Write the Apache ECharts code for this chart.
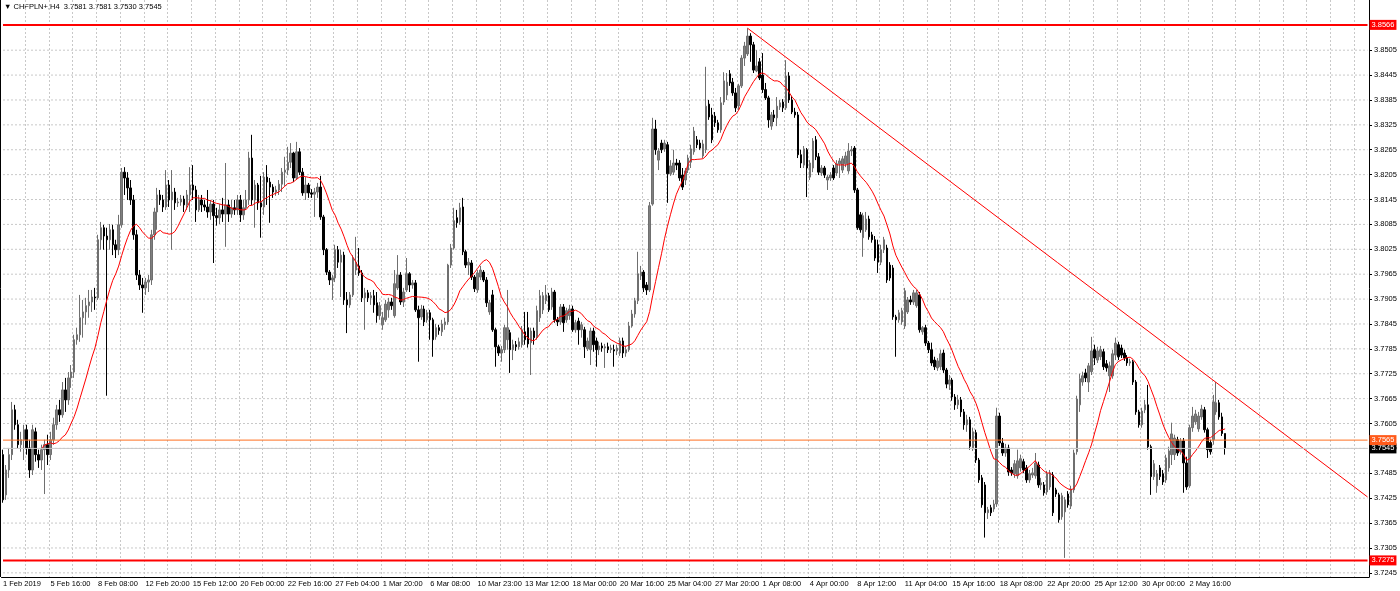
<!DOCTYPE html>
<html><head><meta charset="utf-8">
<script src="https://cdn.jsdelivr.net/npm/echarts@6/dist/echarts.min.js"></script>
<style>html,body{margin:0;padding:0;background:#fff}#c{width:1400px;height:591px}</style>
</head><body><div id="c"></div>
<script>
const headerText = '\u25BC CHFPLN+,H4  3.7581 3.7581 3.7530 3.7545';
// [open, close, low, high] per H4 bar
const candles = [
[3.7530,3.7421,3.7414,3.7542],[3.7433,3.7493,3.7421,3.7505],[3.7493,3.7530,3.7474,3.7546],[3.7530,3.7638,3.7517,3.7657],
[3.7638,3.7602,3.7590,3.7650],[3.7602,3.7554,3.7546,3.7614],[3.7554,3.7566,3.7537,3.7585],[3.7566,3.7590,3.7517,3.7602],
[3.7590,3.7546,3.7530,3.7602],[3.7546,3.7493,3.7474,3.7566],[3.7493,3.7590,3.7481,3.7602],[3.7585,3.7530,3.7513,3.7595],
[3.7530,3.7517,3.7498,3.7542],[3.7517,3.7542,3.7493,3.7554],[3.7542,3.7554,3.7435,3.7566],[3.7554,3.7530,3.7505,3.7578],
[3.7530,3.7566,3.7517,3.7585],[3.7566,3.7602,3.7554,3.7619],[3.7602,3.7638,3.7590,3.7650],[3.7638,3.7626,3.7609,3.7662],
[3.7626,3.7686,3.7619,3.7705],[3.7686,3.7662,3.7633,3.7715],[3.7662,3.7715,3.7650,3.7729],[3.7715,3.7729,3.7691,3.7746],
[3.7729,3.7807,3.7715,3.7819],[3.7807,3.7819,3.7795,3.7836],[3.7819,3.7860,3.7802,3.7915],[3.7860,3.7874,3.7812,3.7903],
[3.7874,3.7889,3.7843,3.7908],[3.7889,3.7898,3.7860,3.7927],[3.7898,3.7910,3.7874,3.7927],[3.7910,3.7908,3.7879,3.7932],
[3.7908,3.8048,3.7903,3.8060],[3.8048,3.8077,3.8024,3.8091],[3.8077,3.8057,3.8024,3.8084],[3.8057,3.8048,3.7672,3.8077],
[3.8048,3.8072,3.8024,3.8086],[3.8072,3.8036,3.8011,3.8084],[3.8036,3.8024,3.8004,3.8048],[3.8024,3.8084,3.8011,3.8108],
[3.8084,3.8211,3.8077,3.8221],[3.8211,3.8197,3.8156,3.8223],[3.8197,3.8173,3.8144,3.8211],[3.8173,3.8144,3.8132,3.8192],
[3.8144,3.8060,3.8048,3.8156],[3.8060,3.7963,3.7951,3.8072],[3.7963,3.7939,3.7927,3.7975],[3.7939,3.7932,3.7872,3.7956],
[3.7932,3.7946,3.7915,3.7956],[3.7946,3.7951,3.7922,3.7963],[3.7951,3.8060,3.7939,3.8072],[3.8060,3.8115,3.8048,3.8125],
[3.8115,3.8156,3.8072,3.8173],[3.8156,3.8144,3.8132,3.8168],[3.8144,3.8127,3.8115,3.8156],[3.8127,3.8180,3.8120,3.8216],
[3.8180,3.8144,3.8127,3.8192],[3.8144,3.8163,3.8024,3.8216],[3.8163,3.8137,3.8120,3.8173],[3.8137,3.8139,3.8127,3.8149],
[3.8139,3.8146,3.8130,3.8156],[3.8146,3.8132,3.8115,3.8154],[3.8132,3.8156,3.8120,3.8168],[3.8156,3.8180,3.8115,3.8223],
[3.8180,3.8168,3.8144,3.8228],[3.8168,3.8120,3.8091,3.8178],[3.8120,3.8144,3.8115,3.8156],[3.8144,3.8132,3.8115,3.8156],
[3.8132,3.8127,3.8118,3.8144],[3.8127,3.8115,3.8101,3.8168],[3.8115,3.8134,3.8096,3.8144],[3.8134,3.8106,3.7992,3.8144],
[3.8106,3.8101,3.8082,3.8125],[3.8101,3.8120,3.8086,3.8134],[3.8120,3.8110,3.8091,3.8149],[3.8110,3.8132,3.8031,3.8233],
[3.8132,3.8110,3.8091,3.8144],[3.8110,3.8125,3.8101,3.8144],[3.8125,3.8120,3.8108,3.8144],[3.8120,3.8144,3.8108,3.8156],
[3.8144,3.8108,3.8091,3.8156],[3.8108,3.8125,3.8096,3.8144],[3.8125,3.8144,3.8120,3.8168],[3.8144,3.8245,3.8132,3.8260],
[3.8245,3.8144,3.8132,3.8301],[3.8144,3.8180,3.8077,3.8192],[3.8180,3.8137,3.8120,3.8185],[3.8137,3.8127,3.8053,3.8202],
[3.8127,3.8199,3.8108,3.8211],[3.8199,3.8187,3.8132,3.8228],[3.8187,3.8175,3.8089,3.8197],[3.8175,3.8163,3.8149,3.8182],
[3.8163,3.8168,3.8154,3.8178],[3.8168,3.8182,3.8156,3.8192],[3.8182,3.8211,3.8163,3.8221],[3.8211,3.8216,3.8178,3.8248],
[3.8216,3.8235,3.8204,3.8272],[3.8235,3.8257,3.8221,3.8281],[3.8257,3.8197,3.8187,3.8260],[3.8197,3.8260,3.8192,3.8284],
[3.8260,3.8211,3.8204,3.8269],[3.8211,3.8161,3.8154,3.8221],[3.8161,3.8180,3.8144,3.8199],[3.8180,3.8161,3.8149,3.8185],
[3.8161,3.8158,3.8149,3.8170],[3.8158,3.8163,3.8103,3.8173],[3.8163,3.8175,3.8149,3.8185],[3.8175,3.8103,3.8096,3.8202],
[3.8103,3.8024,3.8011,3.8108],[3.8024,3.7970,3.7963,3.8028],[3.7970,3.7951,3.7939,3.7975],[3.7951,3.7956,3.7903,3.7963],
[3.7956,3.8024,3.7946,3.8036],[3.8024,3.7994,3.7980,3.8033],[3.7994,3.8011,3.7910,3.8024],[3.8011,3.7903,3.7891,3.8019],
[3.7903,3.7891,3.7823,3.7922],[3.7891,3.7915,3.7884,3.7922],[3.7915,3.8004,3.7910,3.8011],[3.7975,3.7994,3.7963,3.8055],
[3.7985,3.7968,3.7961,3.8028],[3.7968,3.7908,3.7898,3.7975],[3.7908,3.7920,3.7831,3.7932],[3.7920,3.7908,3.7898,3.7927],
[3.7908,3.7913,3.7891,3.7922],[3.7913,3.7891,3.7872,3.7927],[3.7896,3.7865,3.7848,3.7922],[3.7865,3.7889,3.7855,3.7898],
[3.7843,3.7860,3.7831,3.7874],[3.7855,3.7893,3.7850,3.7903],[3.7879,3.7898,3.7860,3.7908],[3.7898,3.7889,3.7879,3.7908],
[3.7865,3.7942,3.7860,3.7975],[3.7932,3.7963,3.7927,3.8011],[3.7963,3.7898,3.7891,3.7970],[3.7898,3.7922,3.7886,3.7932],
[3.7927,3.7966,3.7922,3.8004],[3.7966,3.7939,3.7922,3.7970],[3.7939,3.7944,3.7930,3.7951],[3.7944,3.7879,3.7874,3.7951],
[3.7879,3.7860,3.7754,3.7889],[3.7862,3.7881,3.7855,3.7891],[3.7881,3.7850,3.7840,3.7889],[3.7855,3.7872,3.7848,3.7879],
[3.7872,3.7855,3.7807,3.7879],[3.7855,3.7807,3.7766,3.7860],[3.7814,3.7836,3.7807,3.7845],[3.7836,3.7829,3.7819,3.7843],
[3.7826,3.7845,3.7816,3.7855],[3.7843,3.7850,3.7831,3.7860],[3.7850,3.7987,3.7843,3.7990],[3.7987,3.8028,3.7980,3.8038],
[3.8028,3.8094,3.8024,3.8125],[3.8101,3.8089,3.8077,3.8120],[3.8091,3.8125,3.8084,3.8137],[3.8127,3.8019,3.8011,3.8149],
[3.8019,3.7987,3.7980,3.8024],[3.7987,3.7994,3.7963,3.8004],[3.7992,3.7958,3.7951,3.7999],[3.7958,3.7930,3.7922,3.7963],
[3.7927,3.7968,3.7920,3.7975],[3.7958,3.7975,3.7951,3.7985],[3.7970,3.7951,3.7946,3.7975],[3.7951,3.7896,3.7886,3.7958],
[3.7874,3.7896,3.7867,3.7903],[3.7915,3.7831,3.7826,3.7927],[3.7831,3.7790,3.7742,3.7836],[3.7790,3.7775,3.7768,3.7795],
[3.7775,3.7783,3.7754,3.7792],[3.7783,3.7836,3.7775,3.7843],[3.7807,3.7836,3.7783,3.7927],[3.7824,3.7783,3.7727,3.7831],
[3.7783,3.7795,3.7758,3.7807],[3.7795,3.7790,3.7780,3.7804],[3.7790,3.7802,3.7783,3.7812],[3.7795,3.7831,3.7788,3.7840],
[3.7826,3.7807,3.7795,3.7874],[3.7836,3.7797,3.7788,3.7874],[3.7800,3.7828,3.7722,3.7836],[3.7828,3.7812,3.7795,3.7836],
[3.7814,3.7877,3.7807,3.7889],[3.7860,3.7913,3.7850,3.7927],[3.7879,3.7913,3.7869,3.7922],[3.7901,3.7915,3.7893,3.7939],
[3.7913,3.7879,3.7874,3.7920],[3.7886,3.7922,3.7879,3.7932],[3.7922,3.7855,3.7848,3.7927],[3.7855,3.7850,3.7840,3.7862],
[3.7850,3.7886,3.7843,3.7893],[3.7886,3.7848,3.7826,3.7893],[3.7855,3.7877,3.7848,3.7884],[3.7865,3.7881,3.7855,3.7891],
[3.7881,3.7831,3.7826,3.7889],[3.7831,3.7848,3.7824,3.7855],[3.7852,3.7831,3.7795,3.7860],[3.7831,3.7843,3.7812,3.7850],
[3.7831,3.7790,3.7763,3.7838],[3.7785,3.7804,3.7780,3.7812],[3.7783,3.7828,3.7746,3.7836],[3.7828,3.7795,3.7778,3.7836],
[3.7804,3.7783,3.7742,3.7812],[3.7783,3.7792,3.7770,3.7802],[3.7792,3.7787,3.7778,3.7800],[3.7787,3.7790,3.7739,3.7797],
[3.7790,3.7783,3.7775,3.7800],[3.7783,3.7787,3.7775,3.7795],[3.7783,3.7780,3.7742,3.7795],[3.7780,3.7787,3.7770,3.7795],
[3.7775,3.7804,3.7768,3.7812],[3.7804,3.7775,3.7763,3.7812],[3.7775,3.7783,3.7766,3.7792],[3.7783,3.7840,3.7778,3.7850],
[3.7840,3.7869,3.7836,3.7879],[3.7869,3.7901,3.7860,3.7908],[3.7901,3.7966,3.7893,3.8019],[3.7961,3.7970,3.7951,3.7985],
[3.7970,3.7932,3.7922,3.7975],[3.7939,3.7927,3.7915,3.7946],[3.7927,3.8130,3.7922,3.8139],[3.8134,3.8315,3.8130,3.8342],
[3.8315,3.8265,3.8253,3.8337],[3.8240,3.8262,3.8216,3.8269],[3.8281,3.8265,3.8257,3.8289],[3.8267,3.8281,3.8260,3.8289],
[3.8277,3.8207,3.8137,3.8284],[3.8207,3.8226,3.8202,3.8240],[3.8211,3.8233,3.8204,3.8265],[3.8233,3.8228,3.8216,3.8243],
[3.8233,3.8197,3.8190,3.8240],[3.8204,3.8175,3.8168,3.8221],[3.8192,3.8214,3.8180,3.8221],[3.8216,3.8245,3.8209,3.8253],
[3.8235,3.8267,3.8221,3.8277],[3.8260,3.8310,3.8253,3.8320],[3.8289,3.8277,3.8269,3.8298],[3.8281,3.8269,3.8265,3.8289],
[3.8250,3.8279,3.8245,3.8289],[3.8265,3.8370,3.8257,3.8465],[3.8375,3.8344,3.8337,3.8385],[3.8349,3.8289,3.8281,3.8366],
[3.8346,3.8330,3.8320,3.8356],[3.8330,3.8313,3.8306,3.8337],[3.8313,3.8378,3.8306,3.8392],[3.8380,3.8431,3.8373,3.8452],
[3.8397,3.8428,3.8385,3.8450],[3.8448,3.8426,3.8419,3.8457],[3.8428,3.8402,3.8395,3.8438],[3.8402,3.8366,3.8356,3.8414],
[3.8371,3.8419,3.8361,3.8424],[3.8419,3.8486,3.8414,3.8493],[3.8486,3.8515,3.8467,3.8525],[3.8496,3.8539,3.8491,3.8558],
[3.8539,3.8518,3.8477,3.8546],[3.8518,3.8457,3.8450,3.8525],[3.8455,3.8467,3.8452,3.8505],[3.8477,3.8438,3.8433,3.8486],
[3.8445,3.8410,3.8402,3.8498],[3.8410,3.8390,3.8385,3.8426],[3.8390,3.8337,3.8318,3.8395],[3.8322,3.8349,3.8313,3.8356],
[3.8349,3.8342,3.8332,3.8361],[3.8342,3.8370,3.8322,3.8392],[3.8368,3.8378,3.8361,3.8385],[3.8380,3.8366,3.8356,3.8387],
[3.8366,3.8443,3.8361,3.8481],[3.8443,3.8385,3.8378,3.8452],[3.8385,3.8356,3.8351,3.8395],[3.8356,3.8349,3.8342,3.8366],
[3.8349,3.8253,3.8245,3.8356],[3.8253,3.8233,3.8221,3.8265],[3.8228,3.8267,3.8221,3.8274],[3.8265,3.8221,3.8151,3.8269],
[3.8199,3.8233,3.8192,3.8240],[3.8221,3.8286,3.8211,3.8293],[3.8289,3.8248,3.8240,3.8298],[3.8248,3.8211,3.8204,3.8257],
[3.8209,3.8221,3.8202,3.8228],[3.8221,3.8204,3.8197,3.8226],[3.8192,3.8199,3.8168,3.8204],[3.8197,3.8204,3.8190,3.8211],
[3.8221,3.8197,3.8192,3.8228],[3.8209,3.8231,3.8202,3.8240],[3.8231,3.8238,3.8197,3.8245],[3.8216,3.8243,3.8209,3.8250],
[3.8231,3.8250,3.8223,3.8260],[3.8214,3.8262,3.8207,3.8281],[3.8262,3.8265,3.8250,3.8274],[3.8269,3.8168,3.8161,3.8274],
[3.8168,3.8077,3.8072,3.8173],[3.8108,3.8072,3.8065,3.8115],[3.8053,3.8106,3.8007,3.8113],[3.8072,3.8098,3.8067,3.8115],
[3.8098,3.8055,3.8048,3.8106],[3.8060,3.8048,3.8041,3.8067],[3.8048,3.8004,3.7997,3.8057],[3.8036,3.7994,3.7968,3.8048],
[3.7994,3.8024,3.7987,3.8036],[3.8024,3.8048,3.8016,3.8055],[3.8028,3.7951,3.7944,3.8036],[3.7987,3.7956,3.7949,3.7994],
[3.7980,3.7862,3.7855,3.7987],[3.7862,3.7855,3.7766,3.7867],[3.7855,3.7872,3.7848,3.7879],[3.7850,3.7877,3.7843,3.7884],
[3.7840,3.7925,3.7833,3.7932],[3.7874,3.7903,3.7869,3.7910],[3.7903,3.7898,3.7891,3.7913],[3.7898,3.7920,3.7891,3.7927],
[3.7889,3.7920,3.7884,3.7927],[3.7915,3.7831,3.7824,3.7922],[3.7826,3.7836,3.7819,3.7840],[3.7836,3.7799,3.7792,3.7843],
[3.7799,3.7783,3.7775,3.7804],[3.7783,3.7751,3.7744,3.7800],[3.7758,3.7742,3.7734,3.7766],[3.7739,3.7756,3.7732,3.7763],
[3.7742,3.7773,3.7734,3.7783],[3.7775,3.7734,3.7727,3.7783],[3.7734,3.7700,3.7690,3.7739],[3.7700,3.7710,3.7686,3.7722],
[3.7710,3.7669,3.7660,3.7715],[3.7669,3.7650,3.7638,3.7676],[3.7650,3.7662,3.7640,3.7674],[3.7662,3.7633,3.7621,3.7669],
[3.7633,3.7602,3.7590,3.7640],[3.7602,3.7614,3.7585,3.7626],[3.7614,3.7550,3.7542,3.7621],[3.7544,3.7585,3.7539,3.7595],
[3.7583,3.7517,3.7510,3.7590],[3.7517,3.7469,3.7462,3.7522],[3.7474,3.7409,3.7402,3.7481],[3.7457,3.7390,3.7330,3.7464],
[3.7390,3.7397,3.7375,3.7404],[3.7402,3.7390,3.7382,3.7409],[3.7399,3.7411,3.7392,3.7421],[3.7411,3.7623,3.7404,3.7643],
[3.7623,3.7558,3.7551,3.7631],[3.7558,3.7534,3.7527,3.7570],[3.7534,3.7546,3.7525,3.7556],[3.7546,3.7488,3.7479,3.7554],
[3.7493,3.7486,3.7479,3.7500],[3.7484,3.7508,3.7474,3.7517],[3.7479,3.7515,3.7472,3.7542],[3.7498,3.7520,3.7489,3.7530],
[3.7513,3.7493,3.7486,3.7520],[3.7498,3.7469,3.7462,3.7505],[3.7469,3.7484,3.7462,3.7493],[3.7481,3.7486,3.7474,3.7498],
[3.7479,3.7510,3.7472,3.7534],[3.7505,3.7457,3.7450,3.7513],[3.7457,3.7462,3.7445,3.7474],[3.7457,3.7438,3.7431,3.7464],
[3.7440,3.7484,3.7433,3.7491],[3.7452,3.7486,3.7445,3.7493],[3.7481,3.7390,3.7382,3.7488],[3.7445,3.7435,3.7428,3.7450],
[3.7433,3.7373,3.7366,3.7438],[3.7380,3.7431,3.7373,3.7438],[3.7392,3.7421,3.7281,3.7428],[3.7435,3.7409,3.7402,3.7442],
[3.7406,3.7447,3.7399,3.7455],[3.7445,3.7534,3.7438,3.7542],[3.7537,3.7664,3.7530,3.7672],[3.7650,3.7713,3.7633,3.7725],
[3.7705,3.7720,3.7696,3.7730],[3.7727,3.7715,3.7705,3.7737],[3.7705,3.7744,3.7681,3.7751],[3.7730,3.7780,3.7722,3.7814],
[3.7783,3.7763,3.7746,3.7795],[3.7758,3.7780,3.7751,3.7790],[3.7766,3.7783,3.7758,3.7792],[3.7778,3.7742,3.7734,3.7785],
[3.7749,3.7739,3.7730,3.7758],[3.7720,3.7744,3.7681,3.7754],[3.7720,3.7773,3.7713,3.7783],[3.7770,3.7799,3.7758,3.7812],
[3.7795,3.7766,3.7758,3.7802],[3.7787,3.7770,3.7763,3.7795],[3.7775,3.7763,3.7756,3.7783],[3.7763,3.7751,3.7744,3.7770],
[3.7751,3.7754,3.7744,3.7761],[3.7754,3.7705,3.7698,3.7758],[3.7705,3.7633,3.7626,3.7710],[3.7633,3.7602,3.7595,3.7638],
[3.7602,3.7635,3.7595,3.7643],[3.7638,3.7650,3.7630,3.7662],[3.7650,3.7549,3.7542,3.7698],[3.7549,3.7477,3.7433,3.7554],
[3.7477,3.7508,3.7469,3.7517],[3.7455,3.7484,3.7438,3.7493],[3.7498,3.7477,3.7469,3.7505],[3.7484,3.7464,3.7457,3.7493],
[3.7469,3.7522,3.7462,3.7530],[3.7498,3.7539,3.7489,3.7549],[3.7530,3.7580,3.7505,3.7607],[3.7530,3.7570,3.7517,3.7578],
[3.7566,3.7534,3.7527,3.7573],[3.7537,3.7563,3.7530,3.7570],[3.7563,3.7510,3.7438,3.7570],[3.7510,3.7452,3.7445,3.7525],
[3.7455,3.7595,3.7450,3.7602],[3.7595,3.7623,3.7585,3.7645],[3.7609,3.7628,3.7602,3.7638],[3.7592,3.7623,3.7585,3.7633],
[3.7621,3.7640,3.7614,3.7650],[3.7638,3.7590,3.7583,3.7645],[3.7590,3.7542,3.7522,3.7595],[3.7559,3.7537,3.7530,3.7566],
[3.7566,3.7657,3.7554,3.7674],[3.7633,3.7655,3.7626,3.7705],[3.7655,3.7621,3.7614,3.7662],[3.7621,3.7581,3.7575,3.7631],
[3.7581,3.7545,3.7530,3.7581]
];
const tickLabels = ['1 Feb 2019','5 Feb 16:00','8 Feb 08:00','12 Feb 20:00','15 Feb 12:00','20 Feb 00:00','22 Feb 16:00',
'27 Feb 04:00','1 Mar 20:00','6 Mar 08:00','10 Mar 23:00','13 Mar 12:00','18 Mar 00:00','20 Mar 16:00','25 Mar 04:00',
'27 Mar 20:00','1 Apr 08:00','4 Apr 00:00','8 Apr 12:00','11 Apr 04:00','15 Apr 16:00','18 Apr 08:00','22 Apr 20:00',
'25 Apr 12:00','30 Apr 00:00','2 May 16:00'];
const barsPerLabel = 16;
const barsPerGridLine = 8;
const slotCount = 461; // bars plus empty chart-shift space
const priceTicks = [3.7245,3.7305,3.7365,3.7425,3.7485,3.7545,3.7605,3.7665,3.7725,3.7785,3.7845,3.7905,3.7965,
3.8025,3.8085,3.8145,3.8205,3.8265,3.8325,3.8385,3.8445,3.8505];
const priceMin = 3.7235, priceMax = 3.8626;
const levels = [
  {value: 3.7545, line: '#c8c8c8', width: 1, box: '#000000', text: '#ffffff'},
  {value: 3.7565, line: '#ff7020', width: 1, box: '#ff5a1a', text: '#ffffff'},
  {value: 3.8566, line: '#ff0000', width: 2, box: '#ff0000', text: '#ffffff'},
  {value: 3.7275, line: '#ff0000', width: 2, box: '#ff0000', text: '#ffffff'}
];
const trendLine = [[251, 3.8558], [460, 3.7428]];
const maPeriod = 14;

const categories = Array.from({length: slotCount}, (_, i) => String(i));
const closes = candles.map(c => c[1]);
const ma = closes.map((_, i) => {
  if (i < maPeriod - 1) return '-';
  let s = 0; for (let k = i - maPeriod + 1; k <= i; k++) s += closes[k];
  return +(s / maPeriod).toFixed(5);
});
const lastSlot = slotCount - 1;
const gridLineData = [];
priceTicks.forEach(v => { gridLineData.push([0, v], [lastSlot, v], '-'); });
const FONT = 'Liberation Sans, Arial, sans-serif';
const FS = 7.5;

const levelSeries = levels.map((l, k) => ({
  type: 'line', data: [[0, l.value], [lastSlot, l.value]], z: 5 + k, silent: true,
  showSymbol: false, symbol: 'none',
  lineStyle: {color: l.line, width: l.width},
  endLabel: {show: true, formatter: () => l.value.toFixed(4), distance: 2,
    backgroundColor: l.box, color: l.text, fontSize: FS, fontFamily: FONT, padding: [1, 2, 1, 2]}
}));

const chart = echarts.init(document.getElementById('c'), null, {renderer: 'canvas'});
chart.setOption({
  animation: false,
  backgroundColor: '#ffffff',
  grid: {left: 1, right: 31, top: 0, bottom: 14, containLabel: false},
  xAxis: {
    type: 'category', data: categories, boundaryGap: true,
    axisLine: {show: true, lineStyle: {color: '#000', width: 1}},
    axisTick: {show: false},
    splitLine: {show: true, interval: (i) => i % barsPerGridLine === 0 && i > 0,
      lineStyle: {color: '#c8c8c8', type: [2, 2], width: 1}},
    axisLabel: {
      interval: (i) => i % barsPerLabel === 0 && i / barsPerLabel < tickLabels.length,
      formatter: (v, i) => tickLabels[Math.round(i / barsPerLabel)] || '',
      align: 'left', margin: 3, fontSize: FS, color: '#000', fontFamily: FONT
    }
  },
  yAxis: {
    type: 'value', position: 'right', min: priceMin, max: priceMax, scale: true,
    axisLine: {show: true, lineStyle: {color: '#000', width: 1}},
    axisTick: {show: true, length: 3, customValues: priceTicks, lineStyle: {color: '#000'}},
    splitLine: {show: false},
    axisLabel: {customValues: priceTicks, formatter: v => v.toFixed(4), margin: 5, fontSize: FS, color: '#000', fontFamily: FONT}
  },
  series: [
    {
      type: 'line', data: gridLineData, z: 1, silent: true, showSymbol: false, symbol: 'none', connectNulls: false,
      lineStyle: {color: '#c8c8c8', type: [2, 2], width: 1}
    },
    {
      type: 'candlestick', data: candles, z: 2, barWidth: 2,
      itemStyle: {color: '#7f7f7f', color0: '#000000', borderColor: '#6f6f6f', borderColor0: '#000000', borderWidth: 1}
    },
    {
      type: 'line', data: ma, z: 3, showSymbol: false, symbol: 'none', smooth: false,
      lineStyle: {color: '#ff0000', width: 1}
    },
    {
      type: 'line', data: trendLine, z: 4, showSymbol: false, symbol: 'none',
      lineStyle: {color: '#ff0000', width: 1}
    }
  ].concat(levelSeries),
  graphic: [
    {type: 'text', left: 4, top: 3, style: {text: headerText, fontSize: FS, fontFamily: FONT, fill: '#000'}},
    {type: 'line', shape: {x1: 0.5, y1: 0, x2: 0.5, y2: 577}, style: {stroke: '#000', lineWidth: 1}}
  ]
});
</script></body></html>
